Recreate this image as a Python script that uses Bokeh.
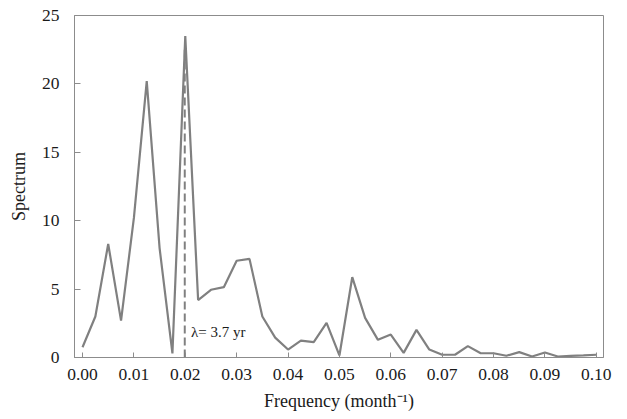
from bokeh.plotting import figure
from bokeh.models import Range1d, FixedTicker, PrintfTickFormatter, Label, ColumnDataSource
from bokeh.embed import file_html
from bokeh.resources import INLINE

# ---- data ----
freq_step = 0.0025
spectrum = [0.75, 3.0, 8.3, 2.7, 10.2, 20.2, 8.0, 0.3, 23.5, 4.2,
            4.95, 5.14, 7.07, 7.21, 3.0, 1.45, 0.58, 1.24, 1.12, 2.53,
            0.15, 5.87, 2.9, 1.29, 1.68, 0.34, 2.02, 0.58, 0.2, 0.2,
            0.83, 0.31, 0.31, 0.13, 0.39, 0.07, 0.37, 0.07, 0.12, 0.15,
            0.2]
frequency = [round(i * freq_step, 4) for i in range(len(spectrum))]
x_ticks = [0.00, 0.01, 0.02, 0.03, 0.04, 0.05, 0.06, 0.07, 0.08, 0.09, 0.10]
y_ticks = [0, 5, 10, 15, 20, 25]
peak_freq = 0.0199
peak_label = "λ= 3.7 yr"
x_title = "Frequency (month⁻¹)"
y_title = "Spectrum"

SERIF = "Liberation Serif"
GRAY = "#808080"
FRAME = "#8c8c8c"

p = figure(width=627, height=419, output_backend="svg", toolbar_location=None,
           x_range=Range1d(-0.00156, 0.1014), y_range=Range1d(0, 25),
           min_border_left=74, min_border_right=24, min_border_top=15,
           min_border_bottom=62)
p.xgrid.visible = False
p.ygrid.visible = False
p.outline_line_color = FRAME
p.outline_line_width = 1

src = ColumnDataSource(dict(x=frequency, y=spectrum))
p.line("x", "y", source=src, line_color=GRAY, line_width=2.2)

peak_val = max(spectrum)
p.segment(x0=[peak_freq], y0=[0], x1=[peak_freq], y1=[peak_val - 1.0],
          line_color=GRAY, line_width=2, line_dash="8 4")

p.add_layout(Label(x=0.0211, y=1.85, text=peak_label, text_font=SERIF,
                   text_font_size="15px", text_color="#1a1a1a",
                   text_baseline="alphabetic"))

# axes
for ax in (p.xaxis[0], p.yaxis[0]):
    ax.axis_line_color = FRAME
    ax.major_tick_line_color = FRAME
    ax.minor_tick_line_color = None
    ax.major_tick_out = 0
    ax.major_label_text_font = SERIF
    ax.major_label_text_font_size = "17.5px"
    ax.major_label_text_color = "#1a1a1a"
    ax.axis_label_text_font = SERIF
    ax.axis_label_text_font_size = "18px"
    ax.axis_label_text_font_style = "normal"
    ax.axis_label_text_color = "#1a1a1a"

p.xaxis.ticker = FixedTicker(ticks=x_ticks)
p.xaxis.formatter = PrintfTickFormatter(format="%.2f")
p.xaxis.major_tick_in = 5
p.xaxis.major_label_standoff = 11
p.xaxis.axis_label = x_title
p.xaxis.axis_label_standoff = 8

p.yaxis.ticker = FixedTicker(ticks=y_ticks)
p.yaxis.major_tick_in = 6
p.yaxis.major_label_standoff = 15
p.yaxis.axis_label = y_title
p.yaxis.axis_label_standoff = 10

open("out.html", "w").write(file_html(p, INLINE))
